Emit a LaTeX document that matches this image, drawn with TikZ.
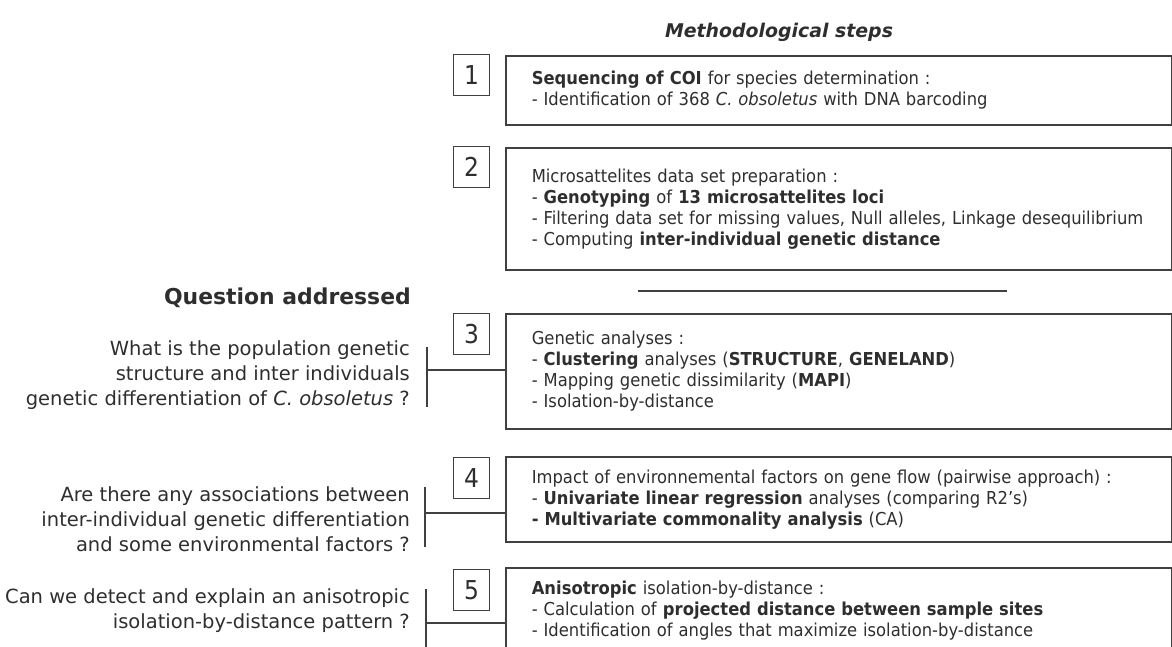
\documentclass[tikz,border=0pt]{standalone}
\usepackage{fontspec}
\setmainfont{DejaVu Sans}
\newfontfamily\boxfont[FakeStretch=0.92]{DejaVu Sans}
\newfontfamily\qfont{DejaVu Sans}
\newfontfamily\numfont[FakeStretch=0.9]{DejaVu Sans}
\definecolor{txt}{HTML}{2E2E2E}
\definecolor{ln}{HTML}{404040}
\begin{document}
\begin{tikzpicture}[x=1pt,y=-1pt,
  mainbox/.style={draw=ln, line width=1.6pt, anchor=north west, minimum width=666pt,
     inner xsep=26pt, inner ysep=0pt, text width=614pt, align=left, text=txt,
     font=\boxfont\fontsize{17.8}{21}\selectfont},
  numbox/.style={draw=ln, line width=1.1pt, anchor=north west, minimum width=36pt,
     minimum height=41pt, inner sep=0pt, text=txt, font=\numfont\fontsize{26}{28}\selectfont},
  question/.style={anchor=east, align=right, text=txt, inner sep=0pt,
     font=\qfont\fontsize{19.5}{25}\selectfont},
  bar/.style={draw=ln, line width=2pt},
  link/.style={draw=ln, line width=1.3pt}]
\clip (0,0) rectangle (1172,646);
\useasboundingbox (0,0) rectangle (1172,646);

\node[text=txt, font=\fontsize{18.9}{22}\selectfont\bfseries\itshape] (title) at (779,32) {Methodological steps};
\node[text=txt, anchor=east, inner sep=0pt, font=\fontsize{21.9}{24}\selectfont\bfseries] (qa) at (411,298) {Question addressed};

% step boxes
\node[numbox] (n1) at (453,54) {1};
\node[mainbox, minimum height=69pt] (b1) at (505,55) {\textbf{Sequencing of COI} for species determination :\\
- Identification of 368 \textit{C. obsoletus} with DNA barcoding};

\node[numbox] (n2) at (453,146) {2};
\node[mainbox, minimum height=122pt] (b2) at (505,147) {Microsattelites data set preparation :\\
- \textbf{Genotyping} of \textbf{13 microsattelites loci}\\
- Filtering data set for missing values, Null alleles, Linkage desequilibrium\\
- Computing \textbf{inter-individual genetic distance}};

\coordinate (sepl) at (638,291);
\coordinate (sepr) at (1007,291);
\draw[link, line width=1.6pt] (sepl) -- (sepr);

\node[numbox] (n3) at (453,313) {3};
\node[mainbox, minimum height=115pt] (b3) at (505,313) {Genetic analyses :\\
- \textbf{Clustering} analyses (\textbf{STRUCTURE}, \textbf{GENELAND})\\
- Mapping genetic dissimilarity (\textbf{MAPI})\\
- Isolation-by-distance};

\node[numbox] (n4) at (453,457) {4};
\node[mainbox, minimum height=85pt] (b4) at (505,456) {Impact of environnemental factors on gene flow (pairwise approach) :\\
- \textbf{Univariate linear regression} analyses (comparing R2’s)\\
\textbf{- Multivariate commonality analysis} (CA)};

\node[numbox] (n5) at (453,569) {5};
\node[mainbox, minimum height=86pt] (b5) at (505,567) {\textbf{Anisotropic} isolation-by-distance :\\
- Calculation of \textbf{projected distance between sample sites}\\
- Identification of angles that maximize isolation-by-distance};

% questions
\node[question] (q1) at (410,375) {What is the population genetic\\
structure and inter individuals\\
genetic differentiation of \textit{C. obsoletus} ?};
\node[question] (q2) at (410,519) {Are there any associations between\\
inter-individual genetic differentiation\\
and some environmental factors ?};
\node[question] (q3) at (410,611) {Can we detect and explain an anisotropic\\
isolation-by-distance pattern ?};

% brackets and connectors
\coordinate (t1) at (427,347); \coordinate (m1) at (427,370); \coordinate (e1) at (427,407);
\draw[bar] (t1) -- (e1);
\draw[link] (m1) -- (m1 -| b3.west);

\coordinate (t2) at (425,487); \coordinate (m2) at (425,513); \coordinate (e2) at (425,547);
\draw[bar] (t2) -- (e2);
\draw[link] (m2) -- (m2 -| b4.west);

\coordinate (t3) at (426,589); \coordinate (m3) at (426,623); \coordinate (e3) at (426,650);
\draw[bar] (t3) -- (e3);
\draw[link] (m3) -- (m3 -| b5.west);
\end{tikzpicture}
\end{document}
